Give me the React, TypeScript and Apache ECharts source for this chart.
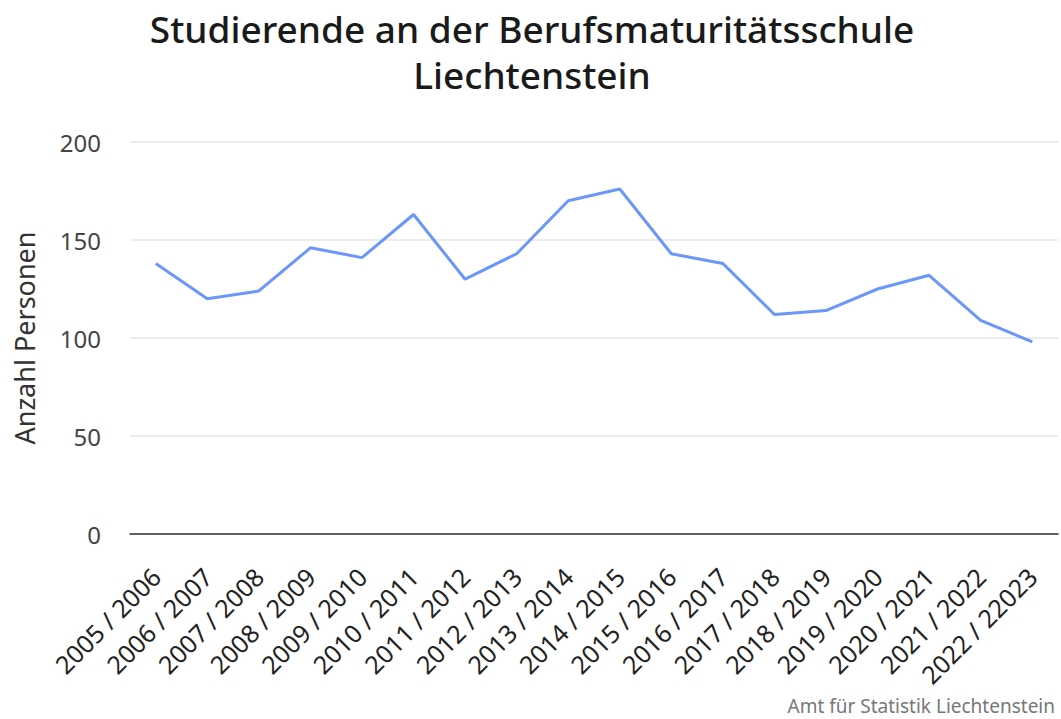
import React, { useEffect, useRef } from "react";
import * as echarts from "echarts";

const categories = [
  "2005 / 2006", "2006 / 2007", "2007 / 2008", "2008 / 2009", "2009 / 2010",
  "2010 / 2011", "2011 / 2012", "2012 / 2013", "2013 / 2014", "2014 / 2015",
  "2015 / 2016", "2016 / 2017", "2017 / 2018", "2018 / 2019", "2019 / 2020",
  "2020 / 2021", "2021 / 2022", "2022 / 22023",
];
const studierende = [138, 120, 124, 146, 141, 163, 130, 143, 170, 176, 143, 138, 112, 114, 125, 132, 109, 98];
const yTicks = { min: 0, max: 200, interval: 50 };

const titleText = "Studierende an der Berufsmaturitätsschule\nLiechtenstein";
const yAxisName = "Anzahl Personen";
const sourceText = "Amt für Statistik Liechtenstein";

const FONT = "'Noto Sans', Lato, sans-serif";

export default function App() {
  const ref = useRef<HTMLDivElement>(null);
  useEffect(() => {
    document.body.style.margin = "0";
    const chart = echarts.init(ref.current!, null, { renderer: "svg" });
    chart.setOption({
      animation: false,
      backgroundColor: "#ffffff",
      textStyle: { fontFamily: FONT },
      title: {
        text: titleText,
        left: 527,
        textAlign: "center",
        top: 0,
        textStyle: {
          fontFamily: FONT,
          fontSize: 37,
          fontWeight: 500,
          color: "#1a1a1a",
          lineHeight: 46,
        },
      },
      graphic: [
        {
          type: "text",
          right: 6,
          bottom: 4,
          style: {
            text: sourceText,
            fontFamily: FONT,
            fontSize: 19,
            fill: "#777777",
          },
        },
      ],
      grid: { left: 130, right: 3, top: 142, bottom: 185, containLabel: false },
      xAxis: {
        type: "category",
        data: categories,
        boundaryGap: true,
        axisLine: { show: true, lineStyle: { color: "#333333", width: 1.5 } },
        axisTick: { show: false },
        axisLabel: {
          rotate: 45,
          interval: 0,
          fontSize: 25,
          color: "#222222",
          fontFamily: FONT,
          margin: 38,
        },
      },
      yAxis: {
        type: "value",
        min: yTicks.min,
        max: yTicks.max,
        interval: yTicks.interval,
        name: yAxisName,
        nameLocation: "middle",
        nameGap: 92,
        nameTextStyle: { fontSize: 27, color: "#333333", fontFamily: FONT },
        axisLine: { show: false },
        axisTick: { show: false },
        axisLabel: { fontSize: 24, color: "#444444", margin: 29, fontFamily: FONT },
        splitLine: { lineStyle: { color: "#e6e6e6", width: 1.5 } },
      },
      series: [
        {
          type: "line",
          data: studierende,
          symbol: "none",
          lineStyle: { color: "#6b97fa", width: 3 },
          itemStyle: { color: "#6b97fa" },
        },
      ],
    });
    return () => chart.dispose();
  }, []);
  return <div ref={ref} style={{ width: 1061, height: 719 }} />;
}
